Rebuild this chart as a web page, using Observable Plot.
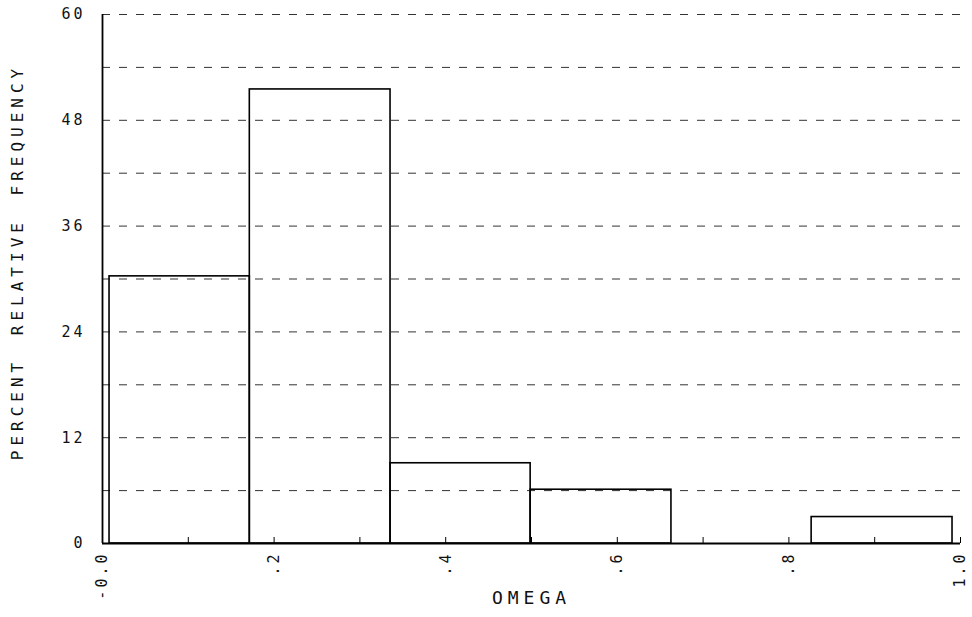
<!DOCTYPE html>
<html>
<head>
<meta charset="utf-8">
<script src="https://cdn.jsdelivr.net/npm/d3@7"></script>
<script src="https://cdn.jsdelivr.net/npm/@observablehq/plot@0.6"></script>
<style>
  html, body { margin: 0; padding: 0; background: #fff; }
  svg { font-family: "DejaVu Sans Mono", "Liberation Mono", monospace; }
</style>
</head>
<body>
<div id="chart"></div>
<script>
// Histogram bins (OMEGA) and percent relative frequency
const binStart = [0.0082, 0.1717, 0.3357, 0.4990, 0.6631, 0.8265];
const binEnd   = [0.1717, 0.3357, 0.4990, 0.6631, 0.8265, 0.9907];
const percent  = [30.3, 51.5, 9.1, 6.1, 0, 3.0];

const xTicks = [0, 0.2, 0.4, 0.6, 0.8, 1.0];
const xTickLabels = ["-0.0", ".2", ".4", ".6", ".8", "1.0"];
const xMinorTicks = [0, 0.1, 0.2, 0.3, 0.4, 0.5, 0.6, 0.7, 0.8, 0.9, 1.0];
const yTicks = [0, 12, 24, 36, 48, 60];
const yTickLabels = ["0", "12", "24", "36", "48", "60"];
const yGrid = [6, 12, 18, 24, 30, 36, 42, 48, 54, 60];
const xLabel = "OMEGA";
const yLabel = "PERCENT RELATIVE FREQUENCY";

const bins = binStart.map((s, i) => ({x1: s, x2: binEnd[i], pct: percent[i]}));

const chart = Plot.plot({
  width: 972,
  height: 617,
  marginLeft: 102,
  marginRight: 12,
  marginTop: 14,
  marginBottom: 74,
  style: {fontFamily: "DejaVu Sans Mono, monospace", color: "#111", background: "#fff"},
  x: {domain: [0, 1]},
  y: {domain: [0, 60]},
  marks: [
    Plot.ruleY(yGrid, {stroke: "#333", strokeWidth: 1, strokeDasharray: "8,9"}),
    Plot.rectY(bins, {x1: "x1", x2: "x2", y: "pct", fill: "none", stroke: "#000", strokeWidth: 1.6}),
    Plot.ruleX([0], {stroke: "#000", strokeWidth: 1.8}),
    Plot.ruleY([0], {stroke: "#000", strokeWidth: 1.8}),
    Plot.axisX({ticks: xMinorTicks, tickSize: -6, text: null, stroke: "#000"}),
    Plot.axisX({
      ticks: xTicks,
      tickFormat: d => xTickLabels[xTicks.findIndex(t => Math.abs(t - d) < 1e-9)],
      tickSize: 0,
      tickPadding: 8,
      tickRotate: -90,
      fontSize: 15,
      label: null
    }),
    Plot.axisY({
      ticks: yTicks,
      tickFormat: d => yTickLabels[yTicks.indexOf(d)],
      tickSize: 0,
      tickPadding: 17,
      fontSize: 15,
      label: null
    }),
    Plot.text([xLabel], {frameAnchor: "bottom", dy: 60, fontSize: 18, text: d => d, fill: "#111", textAnchor: "middle", className: "xlab"}),
    Plot.text([yLabel], {frameAnchor: "left", dx: -85, dy: -17, rotate: -90, fontSize: 16, text: d => d, fill: "#111", textAnchor: "middle", className: "ylab"})
  ]
});

chart.querySelectorAll("text").forEach(t => {
  t.style.letterSpacing = "3px";
});
chart.querySelectorAll(".xlab text").forEach(t => { t.style.letterSpacing = "5px"; });
chart.querySelectorAll(".ylab text").forEach(t => { t.style.letterSpacing = "5px"; t.style.wordSpacing = "8px"; });
document.getElementById("chart").appendChild(chart);
</script>
</body>
</html>
